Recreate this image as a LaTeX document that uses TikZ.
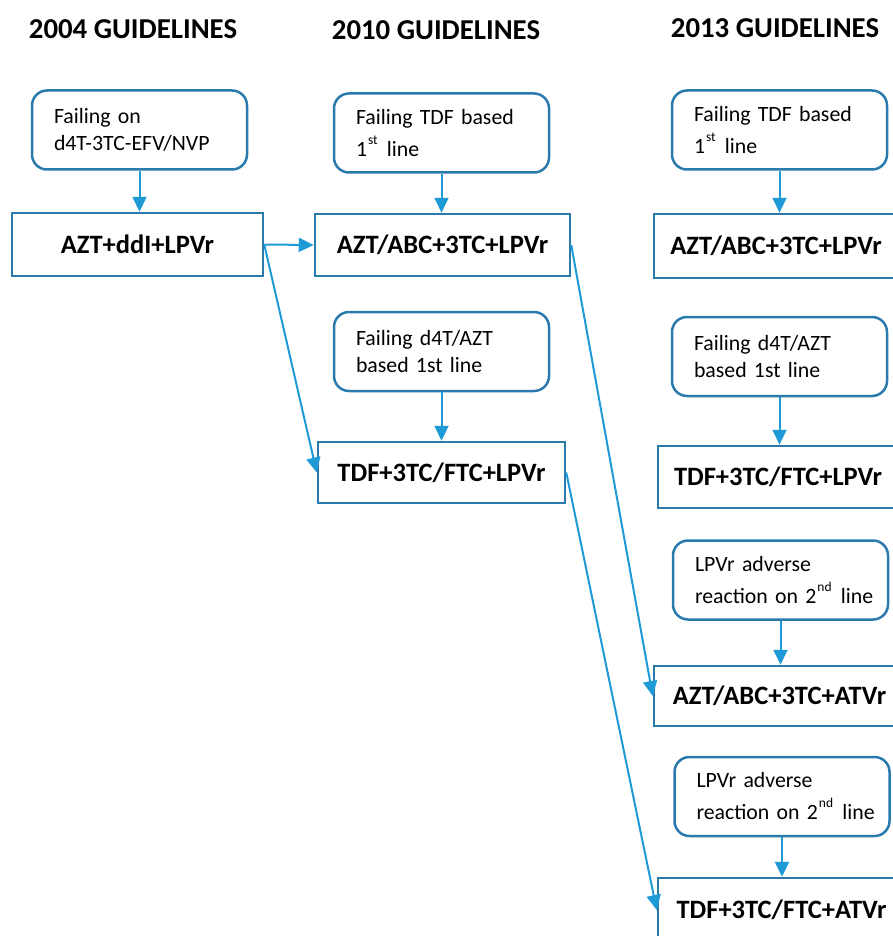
\documentclass[tikz,border=0pt]{standalone}
\usepackage{fontspec}
\setmainfont{Carlito}
\usetikzlibrary{arrows.meta}
\definecolor{boxblue}{HTML}{2A7AAE}
\definecolor{arrblue}{HTML}{1E9BD7}
\newcommand\supx[1]{\hspace{1pt}\raisebox{12pt}{\fontsize{13.5}{13.5}\selectfont #1}\hspace{2pt}}
\begin{document}
\begin{tikzpicture}[x=1pt,y=-1pt,
  hdr/.style={font=\fontsize{28.8}{32}\selectfont\bfseries, inner sep=0pt},
  cond/.style={draw=boxblue, line width=2.5pt, rounded corners=15pt, inner xsep=22pt, inner ysep=0pt,
    text width=171pt, minimum height=79pt, align=left, font=\fontsize{21.8}{27}\selectfont},
  reg/.style={draw=boxblue, line width=2.5pt, inner sep=0pt, font=\fontsize{26.5}{30}\selectfont\bfseries},
  arr/.style={draw=arrblue, line width=2pt, -{Triangle[length=15pt,width=14pt]}}]
\useasboundingbox (0,0) rectangle (893,936);
\node[hdr] (h1) at (133,29) {2004 GUIDELINES};
\node[hdr] (h2) at (436,30) {2010 GUIDELINES};
\node[hdr] (h3) at (775,28) {2013 GUIDELINES};

\node[cond] (a1) at (139.5,130) {Failing on\\\mbox{d4T-3TC-EFV/NVP}};
\node[reg, minimum width=251pt, minimum height=63pt] (b1) at (137.5,244.5) {AZT+ddI+LPVr};
\node[cond] (a2) at (441.5,133) {\mbox{Failing TDF based}\\[5pt]1\supx{st} line};
\node[reg, minimum width=255pt, minimum height=62pt] (b2) at (442.5,245) {AZT/ABC+3TC+LPVr};
\node[cond] (a3) at (441.5,351.5) {Failing d4T/AZT\\based 1st line};
\node[reg, minimum width=247pt, minimum height=61pt] (b3) at (441.5,472.5) {TDF+3TC/FTC+LPVr};
\node[cond] (a4) at (779.5,130) {\mbox{Failing TDF based}\\[5pt]1\supx{st} line};
\node[reg, minimum width=244pt, minimum height=64pt] (b4) at (776,246) {AZT/ABC+3TC+LPVr};
\node[cond] (a5) at (779.5,356.5) {Failing d4T/AZT\\based 1st line};
\node[reg, minimum width=240pt, minimum height=62pt] (b5) at (778,477) {TDF+3TC/FTC+LPVr};
\node[cond] (a6) at (780.5,580) {LPVr adverse\\[5pt]\mbox{reaction on 2\supx{nd} line}};
\node[reg, minimum width=251pt, minimum height=60pt] (b6) at (779.5,696) {AZT/ABC+3TC+ATVr};
\node[cond] (a7) at (782,796.5) {LPVr adverse\\[5pt]\mbox{reaction on 2\supx{nd} line}};
\node[reg, minimum width=247pt, minimum height=64pt] (b7) at (781.5,910) {TDF+3TC/FTC+ATVr};

\draw[arr] (a1.south) -- (a1.south |- b1.north);
\draw[arr] (a2.south) -- (a2.south |- b2.north);
\draw[arr] (a3.south) -- (a3.south |- b3.north);
\draw[arr] (a4.south) -- (a4.south |- b4.north);
\draw[arr] (a5.south) -- (a5.south |- b5.north);
\draw[arr] (a6.south) -- (a6.south |- b6.north);
\draw[arr] (a7.south) -- (a7.south |- b7.north);
\draw[arr] (b1.east) -- (b2.west);
\draw[arr] (b1.east) -- (b3.west);
\draw[arr] (b2.east) -- (b6.west);
\draw[arr] (b3.east) -- (b7.west);
\end{tikzpicture}
\end{document}
